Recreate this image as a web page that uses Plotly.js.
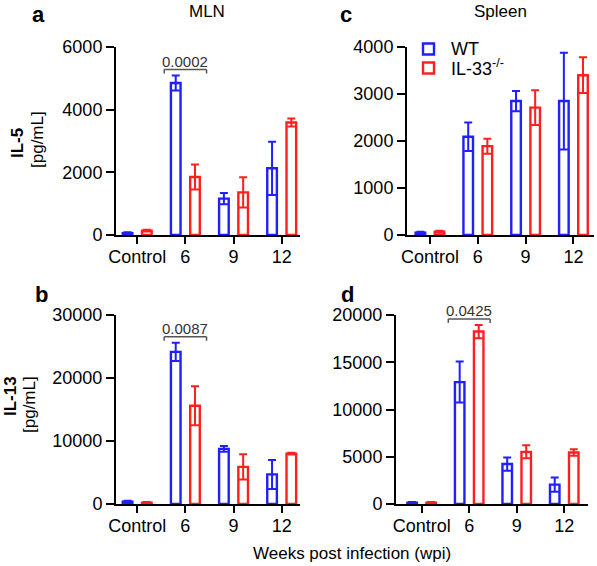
<!DOCTYPE html>
<html>
<head>
<meta charset="utf-8">
<script src="https://cdn.plot.ly/plotly-3.0.1.min.js"></script>
<style>html,body{margin:0;padding:0;background:#fff;}#chart{width:597px;height:566px;}</style>
</head>
<body>
<div id="chart"></div>
<script>
// ---- data ----
const categories = ["Control", "6", "9", "12"];
const mlnIL5WT = [60, 4850, 1160, 2130];
const mlnIL5WTErr = [30, 240, 180, 850];
const mlnIL5KO = [140, 1850, 1360, 3590];
const mlnIL5KOErr = [30, 400, 480, 130];
const splIL5WT = [50, 2090, 2850, 2850];
const splIL5WTErr = [20, 305, 215, 1030];
const splIL5KO = [70, 1890, 2710, 3400];
const splIL5KOErr = [20, 160, 370, 380];
const mlnIL13WT = [370, 24150, 8750, 4700];
const mlnIL13WTErr = [150, 1450, 450, 2300];
const mlnIL13KO = [200, 15600, 5900, 8000];
const mlnIL13KOErr = [100, 3100, 2000, 150];
const splIL13WT = [140, 12900, 4230, 2050];
const splIL13WTErr = [60, 2170, 700, 750];
const splIL13KO = [140, 18250, 5520, 5450];
const splIL13KOErr = [60, 700, 690, 350];
const seriesNames = ["WT", "IL-33<sup>-/-</sup>"];
const pValues = {a: "0.0002", b: "0.0087", d: "0.0425"};
const pCategory = "6";

// ---- styling ----
const W = 597, H = 566;
const BLUE = "#1f1fff", RED = "#ff1f1f";
const FONT = "Liberation Sans, Arial, sans-serif";
const px = x => x / W;
const py = y => 1 - y / H;

function bars(vals, errs, color, offset, xa, ya) {
  return {
    type: "bar", x: categories, y: vals, xaxis: xa, yaxis: ya,
    width: 0.2, offset: offset, showlegend: false, hoverinfo: "skip",
    marker: {color: "rgba(255,255,255,1)", line: {color: color, width: 2.4}},
    error_y: {type: "data", array: errs, visible: true, color: color, thickness: 2, width: 4}
  };
}

const traces = [
  bars(mlnIL5WT, mlnIL5WTErr, BLUE, -0.3, "x", "y"),
  bars(mlnIL5KO, mlnIL5KOErr, RED, 0.1, "x", "y"),
  bars(mlnIL13WT, mlnIL13WTErr, BLUE, -0.3, "x2", "y2"),
  bars(mlnIL13KO, mlnIL13KOErr, RED, 0.1, "x2", "y2"),
  bars(splIL5WT, splIL5WTErr, BLUE, -0.3, "x3", "y3"),
  bars(splIL5KO, splIL5KOErr, RED, 0.1, "x3", "y3"),
  bars(splIL13WT, splIL13WTErr, BLUE, -0.3, "x4", "y4"),
  bars(splIL13KO, splIL13KOErr, RED, 0.1, "x4", "y4")
];

function xax(d0, d1, r0, r1, anchor) {
  return {
    domain: [px(d0), px(d1)], anchor: anchor, type: "category", range: [r0, r1],
    showline: true, linewidth: 2, linecolor: "#000", ticks: "outside", ticklen: 7, tickwidth: 2,
    tickcolor: "#000", tickfont: {size: 18, color: "#000"}, ticklabelstandoff: -3,
    showgrid: false, zeroline: false, fixedrange: true
  };
}
function yax(top, bottom, max, dtick, anchor) {
  return {
    domain: [py(bottom), py(top)], anchor: anchor, range: [0, max], dtick: dtick, tick0: 0,
    tickformat: "d",
    showline: true, linewidth: 2, linecolor: "#000", ticks: "outside", ticklen: 8, tickwidth: 2,
    tickcolor: "#000", tickfont: {size: 18, color: "#000"}, showgrid: false, zeroline: false, fixedrange: true
  };
}

const axA = {x: xax(116, 300, -0.44, 3.38, "y"), y: yax(47, 235, 6000, 2000, "x")};
const axB = {x: xax(116, 300, -0.44, 3.38, "y2"), y: yax(315, 504, 30000, 10000, "x2")};
const axC = {x: xax(407, 594, -0.48, 3.43, "y3"), y: yax(47, 235, 4000, 1000, "x3")};
const axD = {x: xax(396, 588, -0.54, 3.50, "y4"), y: yax(315, 504, 20000, 5000, "x4")};

// significance brackets
const shapes = [], annotations = [];
function bracket(xa, ya, wt, wtE, ko, koE, yMax, domPx, text) {
  const i = categories.indexOf(pCategory);
  const top = Math.max(wt[i] + wtE[i], ko[i] + koE[i]);
  const yb = top + 6 * yMax / domPx;
  const line = {color: "#555", width: 1.5};
  shapes.push({type: "line", xref: xa, yref: ya, x0: i - 0.44, x1: i + 0.44, y0: yb, y1: yb, line: line});
  [i - 0.44, i + 0.44].forEach(xx => shapes.push({type: "line", xref: xa, yref: ya, x0: xx, x1: xx,
    ysizemode: "pixel", yanchor: yb, y0: 0, y1: -4, line: line}));
  annotations.push({xref: xa, yref: ya, x: i, y: yb, text: text, showarrow: false, yanchor: "bottom",
    yshift: -2, font: {size: 15, color: "#333"}});
}
bracket("x", "y", mlnIL5WT, mlnIL5WTErr, mlnIL5KO, mlnIL5KOErr, 6000, 188, pValues.a);
bracket("x2", "y2", mlnIL13WT, mlnIL13WTErr, mlnIL13KO, mlnIL13KOErr, 30000, 189, pValues.b);
bracket("x4", "y4", splIL13WT, splIL13WTErr, splIL13KO, splIL13KOErr, 20000, 189, pValues.d);

function ann(x, y, text, opts) {
  annotations.push(Object.assign({xref: "paper", yref: "paper", x: px(x), y: py(y), text: text,
    showarrow: false, xanchor: "center", yanchor: "middle", font: {size: 17, color: "#000"}}, opts || {}));
}
// panel letters
ann(38, 15, "<b>a</b>", {font: {size: 22, color: "#000"}});
ann(41, 294, "<b>b</b>", {font: {size: 22, color: "#000"}});
ann(346, 15, "<b>c</b>", {font: {size: 22, color: "#000"}});
ann(347, 294, "<b>d</b>", {font: {size: 22, color: "#000"}});
// column titles
ann(207, 11, "MLN");
ann(500, 11, "Spleen");
// y titles
ann(17, 143, "<b>IL-5</b>", {textangle: -90});
ann(37, 140, "[pg/mL]", {textangle: -90});
ann(10, 396, "<b>IL-13</b>", {textangle: -90});
ann(29, 405, "[pg/mL]", {textangle: -90});
// x title
ann(352, 553, "Weeks post infection (wpi)");
// legend
[[BLUE, 49, seriesNames[0]], [RED, 68, seriesNames[1]]].forEach(([c, yc, t]) => {
  shapes.push({type: "rect", xref: "paper", yref: "paper", x0: px(423), x1: px(434), y0: py(yc - 5.5), y1: py(yc + 5.5),
    line: {color: c, width: 2.4}, fillcolor: "rgba(0,0,0,0)"});
  ann(449, yc, t, {xanchor: "left", font: {size: 18, color: "#000"}});
});

const layout = Object.assign({
  width: W, height: H, margin: {l: 0, r: 0, t: 0, b: 0},
  paper_bgcolor: "#fff", plot_bgcolor: "rgba(0,0,0,0)",
  font: {family: FONT, color: "#000"}, barmode: "overlay", showlegend: false,
  shapes: shapes, annotations: annotations
}, {
  xaxis: axA.x, yaxis: axA.y, xaxis2: axB.x, yaxis2: axB.y,
  xaxis3: axC.x, yaxis3: axC.y, xaxis4: axD.x, yaxis4: axD.y
});

Plotly.newPlot("chart", traces, layout, {displayModeBar: false, staticPlot: true});
</script>
</body>
</html>
